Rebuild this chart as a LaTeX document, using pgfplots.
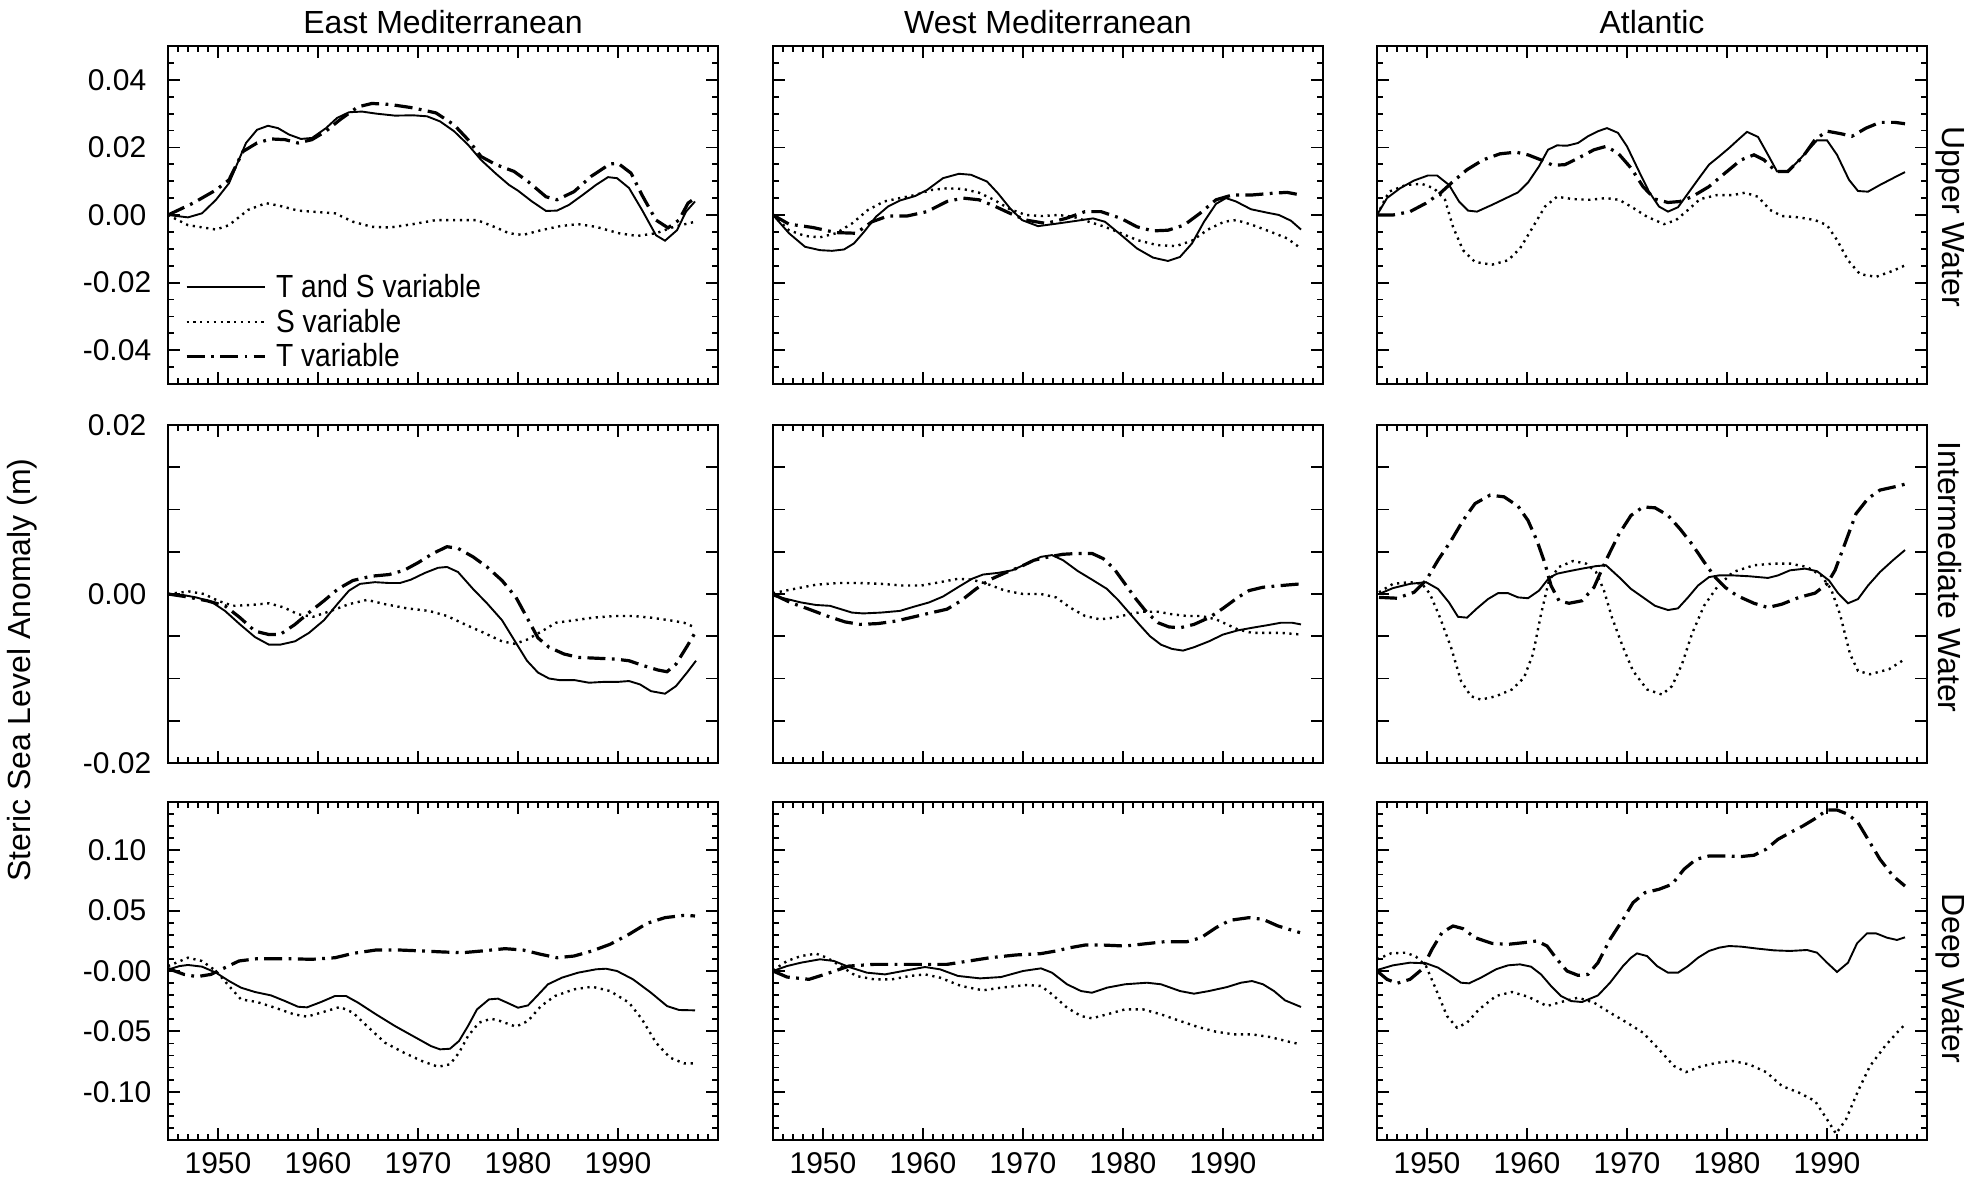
\documentclass[border=0pt]{standalone}
\usepackage{fontspec}
\setmainfont{Liberation Sans}
\usepackage{graphicx}
\usepackage{pgfplots}
\pgfplotsset{compat=1.18}

\pgfplotsset{
  ts/.style={black, line width=0.95pt, solid},
  sv/.style={black, line width=1.2pt, dash pattern=on 1.1pt off 2.3pt},
  tv/.style={black, line width=1.6pt, dash pattern=on 9pt off 3.2pt on 1.4pt off 3.2pt},
  panel/.style={
    scale only axis, width=275pt, height=169pt, anchor=north west,
    xmin=1945, xmax=2000,
    scaled x ticks=false, scaled y ticks=false,
    xtick={1950,1960,1970,1980,1990},
    minor xtick={1946,...,1999},
    xticklabels={},
    axis line style={line width=1.3pt},
    tick style={black, line width=0.9pt},
    major tick length=6pt, minor tick length=3pt,
    every tick label/.append style={font=\fontsize{15}{18}\selectfont},
    yticklabel style={anchor=center, xshift=-25.5pt},
    xticklabel style={yshift=-2.5pt},
    /pgf/number format/assume math mode=true,
    every axis title/.style={font=\fontsize{16}{19}\selectfont, anchor=base, at={(0.5,1)}, yshift=6pt},
  },
  rowA/.style={ymin=-0.05, ymax=0.05,
    ytick={-0.04,-0.02,0,0.02,0.04},
    minor ytick={-0.045,-0.035,-0.03,-0.025,-0.015,-0.01,-0.005,0.005,0.01,0.015,0.025,0.03,0.035,0.045}},
  rowB/.style={ymin=-0.02, ymax=0.02,
    ytick={-0.02,-0.015,-0.01,-0.005,0,0.005,0.01,0.015,0.02}},
  rowC/.style={ymin=-0.14, ymax=0.14,
    ytick={-0.10,-0.05,0,0.05,0.10},
    minor ytick={-0.13,-0.12,-0.11,-0.09,-0.08,-0.07,-0.06,-0.04,-0.03,-0.02,-0.01,0.01,0.02,0.03,0.04,0.06,0.07,0.08,0.09,0.11,0.12,0.13}},
  noylab/.style={yticklabels={}},
}

\begin{document}
\begin{tikzpicture}
\path[use as bounding box] (0pt,0pt) rectangle (991pt,-591pt);

% ---------------- Row 1: Upper Water ----------------
\begin{axis}[panel, rowA, at={(84pt,-23pt)}, title={East Mediterranean},
  yticklabels={-0.04,-0.02,0.00,0.02,0.04},
  legend style={at={(0.03,0.335)}, anchor=north west, draw=none, fill=none,
    inner sep=0pt, row sep=1.3pt, nodes={inner sep=1.5pt},
    font=\fontsize{16}{18}\selectfont,
    /tikz/every odd column/.append style={column sep=3.5pt}},
  legend cell align=left,
  legend image code/.code={\draw[#1] (0pt,0pt) -- (39pt,0pt);}]
\addplot[ts] coordinates {(1945,0) (1947,-0.0007) (1948.4,0.0005) (1949.8,0.0045) (1951.1,0.0094) (1952.8,0.0213) (1953.9,0.0252) (1955,0.0264) (1956,0.0257) (1957.1,0.0238) (1958.3,0.0225) (1959.4,0.0228) (1960.8,0.0257) (1961.9,0.0287) (1963.1,0.0304) (1964.4,0.0306) (1965.8,0.030) (1967.7,0.0294) (1969.5,0.0295) (1970.9,0.0292) (1972.2,0.0277) (1973.6,0.0248) (1975,0.0208) (1976.3,0.0163) (1977.8,0.0122) (1979.1,0.0089) (1980,0.0072) (1981.4,0.004) (1982.8,0.0012) (1983.9,0.0013) (1985.1,0.003) (1986.5,0.006) (1987.8,0.0089) (1989,0.0112) (1989.9,0.0109) (1991.1,0.008) (1992.4,0.0015) (1993.8,-0.006) (1994.7,-0.0076) (1995.9,-0.0045) (1996.8,0.001) (1997.7,0.004)};
\addlegendentry{\scalebox{0.88}[1]{T and S variable}}
\addplot[sv] coordinates {(1945,0) (1947,-0.003) (1949.8,-0.0043) (1951.1,-0.003) (1953,0.0015) (1954.8,0.0035) (1956.2,0.0027) (1958,0.0013) (1959.9,0.0009) (1961.7,0.0005) (1963.5,-0.002) (1965.4,-0.0035) (1967.2,-0.0037) (1969.5,-0.0027) (1971.8,-0.0015) (1974.1,-0.0015) (1975.9,-0.0015) (1977.8,-0.0037) (1979.1,-0.0054) (1980.5,-0.0059) (1982.3,-0.0045) (1984.2,-0.0033) (1986,-0.0027) (1987.8,-0.0035) (1990.1,-0.0054) (1991.9,-0.0062) (1993.8,-0.0054) (1995.6,-0.0035) (1997.7,-0.002)};
\addlegendentry{\scalebox{0.88}[1]{S variable}}
\addplot[tv] coordinates {(1945,0) (1947.5,0.0035) (1949.8,0.0074) (1951.1,0.0104) (1952.5,0.0188) (1953.9,0.0213) (1955.3,0.0225) (1956.7,0.0223) (1958,0.0213) (1959.4,0.0223) (1960.8,0.0248) (1962.2,0.0282) (1964,0.032) (1965.4,0.033) (1967.2,0.0327) (1969.5,0.0317) (1971.8,0.0302) (1973.6,0.0267) (1975,0.0223) (1976.3,0.0173) (1977.8,0.0149) (1979.6,0.0129) (1981,0.0099) (1982.8,0.0054) (1983.9,0.0045) (1985.6,0.0069) (1987.3,0.0114) (1989.2,0.0151) (1990,0.0153) (1991.3,0.0124) (1992.4,0.0059) (1993.8,-0.0015) (1995,-0.0038) (1996.1,-0.0015) (1997,0.0035) (1997.7,0.005)};
\addlegendentry{\scalebox{0.88}[1]{T variable}}
\end{axis}

\begin{axis}[panel, rowA, noylab, at={(386.5pt,-23pt)}, title={West Mediterranean}]
\addplot[ts] coordinates {(1945,0) (1946.6,-0.0054) (1948.2,-0.0094) (1949.7,-0.0104) (1950.9,-0.0106) (1952.1,-0.0102) (1953.1,-0.0084) (1954.1,-0.005) (1955.3,-0.0005) (1956.5,0.0025) (1957.7,0.0043) (1959.2,0.0056) (1960.4,0.0074) (1962,0.0109) (1963.6,0.0122) (1964.8,0.0119) (1966.4,0.0099) (1967.5,0.0064) (1968.7,0.002) (1969.9,-0.0015) (1971.5,-0.0033) (1973.5,-0.0025) (1975.4,-0.0017) (1977,-0.001) (1978.2,-0.002) (1979.8,-0.0059) (1981.4,-0.0099) (1983,-0.0126) (1984.5,-0.0136) (1985.7,-0.0124) (1986.9,-0.0084) (1988.1,-0.002) (1989.3,0.0033) (1990.3,0.005) (1991.3,0.004) (1992.8,0.0017) (1994.4,0.0007) (1995.6,0) (1996.8,-0.0017) (1997.8,-0.0043)};
\addplot[sv] coordinates {(1945,0) (1946.6,-0.0045) (1948.2,-0.0062) (1949.7,-0.0066) (1951.3,-0.0054) (1952.9,-0.0025) (1954.5,0.0015) (1956.1,0.004) (1957.7,0.005) (1959.2,0.0059) (1960.8,0.0074) (1962.4,0.0079) (1964,0.0077) (1965.6,0.0066) (1967.1,0.0045) (1968.7,0.0017) (1970.3,0) (1971.9,-0.0003) (1973.5,0) (1975,-0.0005) (1976.6,-0.002) (1978.2,-0.0035) (1979.8,-0.0054) (1981.4,-0.0074) (1983.4,-0.0089) (1985.3,-0.0092) (1986.9,-0.0076) (1988.5,-0.0043) (1990.1,-0.002) (1991.3,-0.0015) (1992.8,-0.0028) (1994.8,-0.005) (1996.4,-0.0069) (1997.8,-0.0099)};
\addplot[tv] coordinates {(1945,0) (1946.6,-0.0027) (1949,-0.0037) (1951.3,-0.0052) (1953.3,-0.0054) (1954.9,-0.002) (1956.5,-0.0003) (1958.4,-0.0003) (1960.4,0.001) (1962.4,0.004) (1964,0.005) (1965.6,0.0045) (1967.1,0.0027) (1968.7,0.0005) (1970.3,-0.0015) (1972.3,-0.0025) (1974.3,-0.001) (1976.2,0.001) (1977.8,0.001) (1979.8,-0.001) (1981.4,-0.0035) (1983,-0.0047) (1984.5,-0.0045) (1986.1,-0.003) (1987.7,0.0005) (1989.3,0.0045) (1990.9,0.0059) (1992.8,0.0059) (1994.8,0.0064) (1996.4,0.0067) (1997.8,0.0059)};
\end{axis}

\begin{axis}[panel, rowA, noylab, at={(688.5pt,-23pt)}, title={Atlantic}]
\addplot[ts] coordinates {(1945,0) (1946,0.005) (1947.3,0.0079) (1948.7,0.0102) (1950.1,0.0117) (1951,0.0117) (1952.2,0.0089) (1953.2,0.004) (1954.1,0.0013) (1955,0.001) (1956.5,0.003) (1957.7,0.0047) (1959.1,0.0067) (1960.1,0.0096) (1961.2,0.0144) (1962.1,0.0193) (1963,0.0206) (1964,0.0205) (1965.1,0.0213) (1966.1,0.0233) (1967.1,0.0248) (1968,0.0257) (1969.1,0.0243) (1970,0.0203) (1971.2,0.0129) (1972.2,0.0069) (1973.2,0.0025) (1974.1,0.001) (1975.1,0.0023) (1976.1,0.0064) (1977.2,0.0109) (1978.2,0.0149) (1979.2,0.0173) (1980.2,0.0198) (1981.2,0.0225) (1982,0.0246) (1983.1,0.0231) (1984.1,0.0178) (1985,0.0129) (1986,0.0129) (1986.9,0.0153) (1988,0.0188) (1989,0.0221) (1990,0.0221) (1991,0.0178) (1992.2,0.0104) (1993.1,0.0071) (1994.1,0.0069) (1995.3,0.0089) (1996.8,0.0112) (1997.8,0.0127)};
\addplot[sv] coordinates {(1945,0) (1946.2,0.0069) (1947.9,0.0089) (1949.5,0.0092) (1950.7,0.0079) (1951.8,0.0045) (1952.6,-0.0035) (1953.6,-0.0104) (1954.8,-0.0139) (1956.5,-0.0147) (1958.1,-0.0134) (1959.3,-0.0099) (1960.6,-0.0035) (1961.8,0.0025) (1963,0.0054) (1964.6,0.0047) (1966.3,0.0045) (1967.9,0.005) (1969.2,0.0045) (1970.4,0.0025) (1972,-0.0005) (1973.7,-0.0027) (1974.9,-0.0015) (1976.1,0.0015) (1977.3,0.0047) (1979,0.0059) (1980.6,0.0059) (1981.8,0.0066) (1983.1,0.0054) (1984.3,0.0015) (1985.5,-0.0003) (1987.2,-0.0007) (1988.8,-0.0015) (1990,-0.003) (1991,-0.0074) (1992.1,-0.0134) (1993.3,-0.0175) (1994.9,-0.0183) (1996.6,-0.0165) (1997.8,-0.0149)};
\addplot[tv] coordinates {(1945,0) (1946.6,0) (1948.3,0.001) (1949.9,0.0035) (1951.3,0.0064) (1952.6,0.0099) (1954,0.0134) (1955.6,0.0163) (1957.3,0.0181) (1958.9,0.0186) (1960.1,0.0178) (1961.4,0.0163) (1962.6,0.0147) (1963.8,0.0149) (1965.1,0.0168) (1966.7,0.0193) (1967.9,0.0203) (1969.1,0.0183) (1970.4,0.0139) (1971.6,0.0084) (1972.8,0.0047) (1974.1,0.0037) (1975.3,0.004) (1976.5,0.0054) (1978.2,0.0084) (1979.8,0.0124) (1981.4,0.0163) (1982.7,0.0178) (1983.7,0.0163) (1984.9,0.0129) (1986.1,0.0129) (1987.6,0.0173) (1988.8,0.0223) (1990,0.0248) (1991.3,0.0241) (1992.5,0.0233) (1993.9,0.0257) (1995.3,0.0274) (1996.8,0.0274) (1997.8,0.027)};
\end{axis}

% ---------------- Row 2: Intermediate Water ----------------
\begin{axis}[panel, rowB, at={(84pt,-212.5pt)},
  yticklabels={-0.02,{},{},{},0.00,{},{},{},0.02}]
\addplot[ts] coordinates {(1945,0) (1946.4,-0.0001) (1947.8,-0.0004) (1949.3,-0.0009) (1950.7,-0.002) (1952.2,-0.0036) (1953.7,-0.0051) (1955.1,-0.006) (1956.2,-0.006) (1957.7,-0.0056) (1959.1,-0.0046) (1960.6,-0.0031) (1962,-0.0011) (1963.1,0.0004) (1964.2,0.0012) (1965.7,0.0014) (1967.1,0.0013) (1968.2,0.0013) (1969.3,0.0017) (1970.7,0.0025) (1972,0.0031) (1972.9,0.0032) (1974,0.0026) (1975.5,0.0006) (1976.9,-0.0011) (1978.4,-0.0031) (1979.7,-0.0056) (1980.9,-0.0079) (1982,-0.0093) (1983.1,-0.01) (1984.2,-0.0102) (1985.7,-0.0102) (1987.1,-0.0105) (1988.6,-0.0104) (1990,-0.0104) (1991.1,-0.0103) (1992.2,-0.0107) (1993.3,-0.0115) (1994.7,-0.0118) (1995.8,-0.0109) (1996.9,-0.0093) (1997.8,-0.0079)};
\addplot[sv] coordinates {(1945,0) (1947.1,0.0003) (1948.6,0) (1950,-0.0008) (1951.5,-0.0014) (1953.3,-0.0013) (1955.1,-0.0011) (1956.6,-0.0016) (1958,-0.0024) (1959.5,-0.0027) (1961.3,-0.002) (1963.1,-0.0012) (1964.9,-0.0007) (1966.7,-0.0012) (1968.9,-0.0017) (1971.1,-0.002) (1972.9,-0.0026) (1974.7,-0.0036) (1976.6,-0.0046) (1978.4,-0.0056) (1979.7,-0.0059) (1980.9,-0.0054) (1982.4,-0.0044) (1983.8,-0.0034) (1985.7,-0.0031) (1987.5,-0.0028) (1989.7,-0.0026) (1991.5,-0.0026) (1993.3,-0.0028) (1995.1,-0.0031) (1996.6,-0.0034) (1997.8,-0.004)};
\addplot[tv] coordinates {(1945,0) (1946.7,-0.0003) (1948.9,-0.0008) (1950.7,-0.0014) (1952.2,-0.0028) (1953.7,-0.0044) (1955.1,-0.0048) (1956.2,-0.0048) (1957.7,-0.0036) (1959.1,-0.0022) (1960.6,-0.0008) (1962,0.0006) (1963.5,0.0016) (1965.3,0.0021) (1967.1,0.0023) (1968.6,0.0028) (1970,0.0037) (1971.5,0.0048) (1972.9,0.0056) (1974,0.0054) (1975.5,0.0044) (1976.9,0.0032) (1978.4,0.0016) (1979.8,-0.0004) (1980.9,-0.0028) (1982,-0.0052) (1983.1,-0.0063) (1984.6,-0.0071) (1986,-0.0075) (1987.8,-0.0076) (1989.7,-0.0077) (1991.1,-0.0079) (1992.6,-0.0085) (1994,-0.009) (1994.9,-0.0092) (1995.8,-0.0083) (1996.9,-0.0062) (1997.8,-0.0044)};
\end{axis}

\begin{axis}[panel, rowB, noylab, at={(386.5pt,-212.5pt)}]
\addplot[ts] coordinates {(1945,-0.0002) (1946.4,-0.0006) (1947.8,-0.001) (1949.3,-0.0013) (1950.7,-0.0014) (1951.8,-0.0018) (1952.9,-0.0022) (1954,-0.0023) (1955.8,-0.0022) (1957.7,-0.002) (1959.1,-0.0015) (1960.6,-0.001) (1962,-0.0003) (1963.5,0.0008) (1964.9,0.0018) (1966,0.0023) (1967.5,0.0025) (1968.9,0.0028) (1970.4,0.0036) (1971.8,0.0044) (1972.9,0.0046) (1974,0.004) (1975.5,0.0027) (1976.9,0.0017) (1978.4,0.0006) (1979.5,-0.0007) (1980.6,-0.0022) (1981.7,-0.0037) (1982.7,-0.005) (1983.8,-0.006) (1984.9,-0.0065) (1986,-0.0067) (1987.1,-0.0063) (1988.6,-0.0056) (1990,-0.0048) (1991.5,-0.0043) (1992.9,-0.004) (1994.4,-0.0037) (1995.8,-0.0034) (1996.9,-0.0034) (1997.8,-0.0036)};
\addplot[sv] coordinates {(1945,0.0001) (1947.1,0.0006) (1949.3,0.0011) (1951.5,0.0013) (1953.7,0.0013) (1955.8,0.0012) (1958,0.001) (1959.8,0.001) (1961.7,0.0014) (1963.5,0.0018) (1964.9,0.0017) (1966.4,0.0012) (1968.2,0.0004) (1970,0) (1971.8,0) (1973.3,-0.0004) (1974.7,-0.0016) (1976.2,-0.0026) (1977.7,-0.003) (1979.1,-0.0028) (1980.6,-0.0024) (1982,-0.0021) (1983.5,-0.0021) (1984.9,-0.0024) (1986.4,-0.0026) (1987.8,-0.0026) (1989.3,-0.003) (1990.4,-0.0036) (1991.5,-0.0042) (1992.9,-0.0046) (1994.4,-0.0046) (1995.8,-0.0046) (1997.8,-0.0048)};
\addplot[tv] coordinates {(1945,0) (1946.7,-0.001) (1948.6,-0.0018) (1950.4,-0.0026) (1952.2,-0.0033) (1953.7,-0.0036) (1955.5,-0.0035) (1957.3,-0.0032) (1959.1,-0.0027) (1960.9,-0.0022) (1962.4,-0.0018) (1963.8,-0.0008) (1965.3,0.0006) (1966.7,0.0017) (1968.2,0.0025) (1969.7,0.0032) (1971.1,0.004) (1972.6,0.0044) (1974,0.0047) (1975.5,0.0048) (1976.9,0.0048) (1978,0.0042) (1979.1,0.003) (1980.2,0.0012) (1981.3,-0.0006) (1982.4,-0.0022) (1983.5,-0.0034) (1984.6,-0.0039) (1985.7,-0.004) (1987.1,-0.0036) (1988.6,-0.0028) (1990,-0.0017) (1991.5,-0.0004) (1992.6,0.0004) (1994,0.0008) (1995.8,0.001) (1997.8,0.0012)};
\end{axis}

\begin{axis}[panel, rowB, noylab, at={(688.5pt,-212.5pt)}]
\addplot[ts] coordinates {(1945.2,0) (1946.6,0.0007) (1948.3,0.0012) (1949.9,0.0014) (1951.1,0.0006) (1952.2,-0.001) (1953.1,-0.0027) (1954,-0.0028) (1955,-0.0017) (1956.1,-0.0006) (1957.1,0.0001) (1958.1,0.0001) (1959.1,-0.0004) (1960.1,-0.0005) (1961.2,0.0004) (1962.2,0.0019) (1963,0.0024) (1964.2,0.0027) (1965.5,0.003) (1966.9,0.0033) (1967.9,0.0034) (1969.2,0.002) (1970.4,0.0006) (1971.6,-0.0004) (1972.8,-0.0014) (1974.1,-0.0019) (1975.1,-0.0017) (1976.1,-0.0004) (1977.1,0.001) (1978.2,0.002) (1979.2,0.0022) (1980.6,0.0022) (1982.2,0.0021) (1984.1,0.0019) (1985.1,0.0022) (1986.3,0.0028) (1987.8,0.003) (1989,0.0027) (1990.2,0.0016) (1991.1,0.0001) (1992.1,-0.0011) (1993.1,-0.0006) (1994.1,0.001) (1995.3,0.0026) (1996.6,0.004) (1997.8,0.0052)};
\addplot[sv] coordinates {(1945.2,0.0002) (1946.6,0.0012) (1948.3,0.0014) (1949.5,0.0012) (1950.3,0) (1951.3,-0.0028) (1952.4,-0.0063) (1953.4,-0.0103) (1954.4,-0.0121) (1955.4,-0.0125) (1956.9,-0.0121) (1958.5,-0.0113) (1959.7,-0.0099) (1960.6,-0.0071) (1961.4,-0.0024) (1962.2,0.0016) (1963.2,0.0032) (1964.6,0.0039) (1965.9,0.0036) (1966.9,0.0026) (1967.7,0.0004) (1968.5,-0.0028) (1969.6,-0.0063) (1970.6,-0.0091) (1972,-0.0113) (1973.5,-0.0119) (1974.5,-0.0109) (1975.5,-0.0083) (1976.5,-0.0047) (1977.7,-0.0014) (1979,0.0008) (1980.6,0.0026) (1982.7,0.0034) (1984.7,0.0036) (1986.3,0.0036) (1988,0.0032) (1989.4,0.0022) (1990.4,0.0006) (1991.3,-0.0024) (1992.3,-0.0071) (1993.1,-0.0091) (1994.3,-0.0095) (1996.2,-0.0089) (1997.8,-0.0077)};
\addplot[tv] coordinates {(1945.2,-0.0004) (1947,-0.0005) (1948.7,0.0002) (1949.9,0.0016) (1951.1,0.004) (1952.4,0.0063) (1953.6,0.0087) (1954.8,0.0107) (1956.3,0.0117) (1957.7,0.0115) (1959.1,0.0104) (1960.1,0.0087) (1961,0.0063) (1961.8,0.0036) (1962.4,0.001) (1963.2,-0.0008) (1964.2,-0.0011) (1965.5,-0.0008) (1966.7,0.0008) (1967.9,0.004) (1969.2,0.0071) (1970.4,0.0093) (1971.6,0.0103) (1972.8,0.0102) (1974.1,0.0093) (1975.3,0.0077) (1976.5,0.0059) (1977.7,0.0038) (1978.8,0.002) (1979.8,0.0008) (1981,-0.0002) (1982.7,-0.0011) (1984.1,-0.0016) (1985.5,-0.0012) (1987.2,-0.0004) (1988.8,0.0001) (1990,0.0012) (1990.8,0.0028) (1991.9,0.0063) (1992.9,0.0095) (1994.1,0.0113) (1995.3,0.0123) (1997.2,0.0128) (1997.8,0.013)};
\end{axis}

% ---------------- Row 3: Deep Water ----------------
\begin{axis}[panel, rowC, at={(84pt,-401pt)},
  yticklabels={-0.10,-0.05,-0.00,0.05,0.10},
  xticklabels={1950,1960,1970,1980,1990}]
\addplot[ts] coordinates {(1945,0.001) (1946.1,0.004) (1947,0.005) (1948.4,0.0036) (1949.8,-0.0014) (1951.1,-0.0083) (1952.3,-0.0138) (1953.7,-0.0174) (1955.3,-0.0202) (1956.7,-0.0249) (1958,-0.0296) (1958.9,-0.0301) (1960.3,-0.0257) (1961.7,-0.0207) (1962.8,-0.0207) (1964,-0.0262) (1965.8,-0.0359) (1967.7,-0.0456) (1969.5,-0.0539) (1971.3,-0.0622) (1972.2,-0.0649) (1973.2,-0.0644) (1974.1,-0.058) (1975,-0.0456) (1975.9,-0.0318) (1977.1,-0.0235) (1978,-0.0229) (1978.9,-0.0262) (1980,-0.0304) (1981,-0.0285) (1981.9,-0.0207) (1983,-0.011) (1984.4,-0.0055) (1986,-0.0014) (1987.8,0.0014) (1988.8,0.0019) (1989.9,0) (1991.5,-0.0069) (1993.3,-0.018) (1994.9,-0.029) (1996.1,-0.0323) (1997.7,-0.0326)};
\addplot[sv] coordinates {(1945,0.004) (1947,0.011) (1948.4,0.0083) (1949.8,0) (1951.1,-0.0124) (1952.3,-0.0235) (1953.9,-0.0257) (1955.7,-0.0304) (1957.6,-0.0359) (1958.9,-0.0378) (1960.3,-0.0345) (1962.2,-0.0298) (1963.5,-0.0345) (1964.9,-0.0456) (1966.7,-0.0594) (1968.6,-0.0677) (1970.4,-0.0746) (1972,-0.0793) (1973.2,-0.0773) (1974.1,-0.0677) (1975,-0.0539) (1976.1,-0.0428) (1977.3,-0.0395) (1978.2,-0.0414) (1979.8,-0.0461) (1981,-0.0414) (1982.3,-0.029) (1983.7,-0.0207) (1985.6,-0.0152) (1987.4,-0.013) (1989.2,-0.0166) (1991.1,-0.0262) (1992.4,-0.04) (1993.8,-0.0594) (1995.2,-0.0718) (1996.6,-0.0765) (1997.7,-0.0765)};
\addplot[tv] coordinates {(1945,0.002) (1946.6,-0.0028) (1947.9,-0.0047) (1949.3,-0.0028) (1950.7,0.0028) (1952.1,0.0083) (1953.9,0.0102) (1956.7,0.0102) (1959.4,0.0097) (1961.7,0.011) (1963.5,0.0146) (1965.8,0.0174) (1968.1,0.0174) (1970.4,0.0166) (1972.7,0.0157) (1974.5,0.0152) (1976.4,0.0166) (1978.7,0.0185) (1980.5,0.0174) (1982.3,0.0138) (1983.9,0.011) (1985.6,0.0124) (1987.4,0.0166) (1989.2,0.0221) (1991.1,0.0304) (1992.9,0.0395) (1994.7,0.0442) (1996.6,0.0461) (1997.7,0.0456)};
\end{axis}

\begin{axis}[panel, rowC, noylab, at={(386.5pt,-401pt)},
  xticklabels={1950,1960,1970,1980,1990}]
\addplot[ts] coordinates {(1945,0) (1946.4,0.0041) (1947.8,0.0069) (1949.7,0.0097) (1951.1,0.0083) (1952.6,0.0033) (1954.4,-0.0014) (1956.2,-0.0028) (1958,0) (1960.2,0.0033) (1961.7,0.0014) (1963.5,-0.0041) (1965.7,-0.0061) (1967.8,-0.005) (1970,0) (1971.8,0.0022) (1972.9,-0.0014) (1974.4,-0.011) (1975.8,-0.0166) (1976.9,-0.018) (1978.4,-0.0138) (1980.2,-0.011) (1982.4,-0.0097) (1983.8,-0.011) (1985.7,-0.0166) (1987.1,-0.0188) (1988.6,-0.0166) (1990.4,-0.0133) (1991.8,-0.0097) (1992.9,-0.0083) (1994,-0.011) (1995.1,-0.0166) (1996.2,-0.0243) (1997.8,-0.0298)};
\addplot[sv] coordinates {(1945,0.0006) (1946.4,0.0083) (1947.8,0.0124) (1949.3,0.0144) (1950.4,0.011) (1951.5,0.0055) (1953.3,-0.0041) (1955.1,-0.0069) (1956.9,-0.0069) (1958.7,-0.0041) (1960.2,-0.0028) (1961.7,-0.0055) (1963.8,-0.0124) (1966,-0.016) (1967.8,-0.0138) (1970.4,-0.0116) (1971.8,-0.0124) (1972.9,-0.0193) (1974.4,-0.0304) (1975.8,-0.0373) (1976.9,-0.0392) (1978.4,-0.0359) (1980.2,-0.0318) (1982,-0.0318) (1983.8,-0.0359) (1985.7,-0.0414) (1987.5,-0.0464) (1989.3,-0.0503) (1991.1,-0.0525) (1992.9,-0.0525) (1994.7,-0.0547) (1996.6,-0.0586) (1997.8,-0.0608)};
\addplot[tv] coordinates {(1945,0) (1946.4,-0.005) (1948.6,-0.0069) (1950.4,-0.0022) (1952.6,0.0041) (1955.1,0.0055) (1958,0.0055) (1960.2,0.0055) (1962.4,0.0055) (1964.6,0.0083) (1966.7,0.011) (1969.3,0.0133) (1971.8,0.0144) (1973.3,0.0166) (1974.7,0.0193) (1976.2,0.0215) (1978,0.0215) (1980.2,0.0207) (1982.4,0.0227) (1984.2,0.0243) (1986.4,0.0243) (1987.8,0.0276) (1989.3,0.0359) (1990.7,0.042) (1992.6,0.0442) (1994,0.0428) (1995.5,0.0373) (1996.6,0.0345) (1997.7,0.0318)};
\end{axis}

\begin{axis}[panel, rowC, noylab, at={(688.5pt,-401pt)},
  xticklabels={1950,1960,1970,1980,1990}]
\addplot[ts] coordinates {(1945,0.0008) (1946.6,0.0047) (1948.3,0.0069) (1949.9,0.0064) (1951.1,0.0028) (1952.4,-0.0041) (1953.4,-0.0097) (1954.2,-0.0102) (1955.4,-0.0055) (1956.9,0.0014) (1958.1,0.0047) (1959.3,0.0055) (1960.4,0.0036) (1961.4,-0.0028) (1962.4,-0.0124) (1963.4,-0.0207) (1964.4,-0.0249) (1965.5,-0.0257) (1967.1,-0.0202) (1968.3,-0.0097) (1969.6,0.0041) (1970.4,0.011) (1971,0.0146) (1972,0.0124) (1973,0.0041) (1974.1,-0.0014) (1975.1,-0.0014) (1976.1,0.0041) (1977.1,0.011) (1978.2,0.0166) (1979.2,0.0193) (1980.2,0.0207) (1981.4,0.0202) (1983.1,0.0185) (1984.7,0.0171) (1986.3,0.0166) (1988,0.0174) (1989,0.0152) (1990,0.0069) (1991,-0.0008) (1992.1,0.0069) (1993,0.0229) (1994,0.0312) (1994.9,0.0312) (1996,0.0276) (1997,0.0257) (1997.8,0.0279)};
\addplot[sv] coordinates {(1945,0.0097) (1946.4,0.0146) (1947.9,0.0152) (1948.9,0.0119) (1949.9,0.0041) (1950.9,-0.0152) (1952,-0.0373) (1953,-0.047) (1954,-0.0428) (1955.2,-0.0318) (1956.9,-0.0207) (1958.5,-0.0174) (1960.1,-0.0213) (1962,-0.029) (1963.4,-0.0257) (1965.1,-0.0221) (1966.7,-0.0262) (1968.3,-0.0345) (1970,-0.0428) (1971.6,-0.0511) (1973.2,-0.0649) (1974.7,-0.0787) (1975.9,-0.0837) (1977.3,-0.0793) (1979,-0.076) (1980.6,-0.0746) (1982.2,-0.0773) (1983.9,-0.0837) (1985.5,-0.0953) (1987.2,-0.1008) (1988.8,-0.1077) (1990,-0.1229) (1990.9,-0.1348) (1991.9,-0.1229) (1993.1,-0.0994) (1994.3,-0.0787) (1995.8,-0.0622) (1997,-0.0511) (1997.8,-0.0442)};
\addplot[tv] coordinates {(1945,0) (1946,-0.0069) (1947,-0.0102) (1948.3,-0.0069) (1949.5,0.0014) (1950.5,0.018) (1951.5,0.0318) (1952.6,0.0373) (1953.6,0.0351) (1954.8,0.0276) (1956.5,0.0229) (1958.1,0.0221) (1959.7,0.0235) (1961,0.0249) (1962,0.0207) (1963,0.0097) (1964,0) (1965.1,-0.0036) (1966.1,-0.0028) (1967.1,0.0069) (1968.3,0.0262) (1969.6,0.0428) (1970.6,0.0566) (1971.8,0.0649) (1973.2,0.0677) (1974.5,0.0718) (1975.7,0.0843) (1976.9,0.0925) (1978.2,0.0953) (1979.8,0.0953) (1981.4,0.0948) (1982.7,0.0959) (1983.9,0.1008) (1985.1,0.1091) (1986.3,0.1146) (1987.6,0.1202) (1988.8,0.1262) (1990,0.1334) (1991,0.1334) (1992.1,0.1298) (1993.1,0.1229) (1994.1,0.1091) (1995.3,0.0925) (1996.6,0.0787) (1997.8,0.0704)};
\end{axis}

% ---------------- labels ----------------
\node[rotate=90, font=\fontsize{16}{19}\selectfont] at (11pt,-335pt) {Steric Sea Level Anomaly (m)};
\node[rotate=-90, font=\fontsize{16}{19}\selectfont] at (975pt,-108.5pt) {Upper Water};
\node[rotate=-90, font=\fontsize{16}{19}\selectfont] at (975pt,-288.5pt) {Intermediate Water};
\node[rotate=-90, font=\fontsize{16}{19}\selectfont] at (975pt,-489pt) {Deep Water};
\end{tikzpicture}
\end{document}
